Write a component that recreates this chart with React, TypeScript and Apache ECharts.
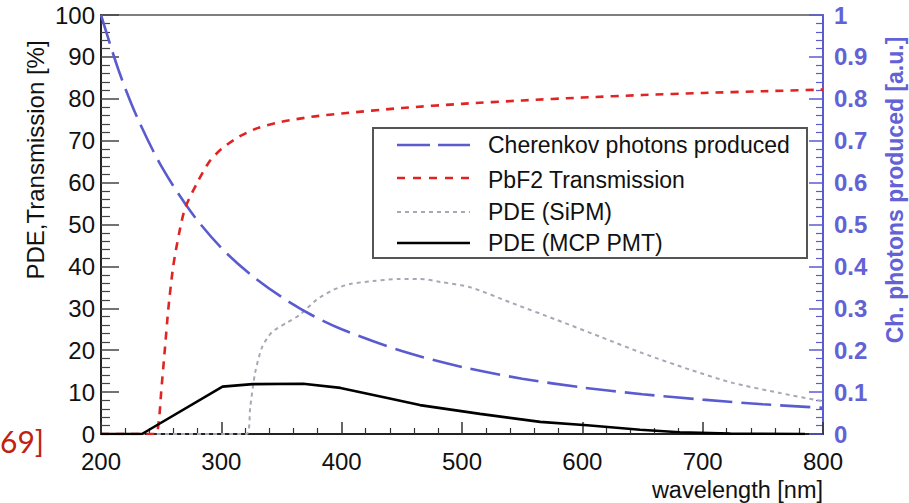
import React, { useEffect, useRef } from "react";
import * as echarts from "echarts";

// Cherenkov photons produced (right axis, a.u.)
const cherenkovNm = [200, 215, 230, 250, 275, 300, 325, 350, 375, 400, 450, 500, 550, 600, 650, 700, 750, 800];
const cherenkovVal = [1.0, 0.865, 0.756, 0.64, 0.529, 0.444, 0.379, 0.327, 0.284, 0.25, 0.198, 0.16, 0.132, 0.111, 0.095, 0.082, 0.071, 0.0625];

// PbF2 transmission (%)
const pbf2Nm = [200, 245, 248, 250, 253, 256, 260, 265, 270, 280, 290, 300, 315, 330, 350, 375, 400, 450, 500, 550, 600, 650, 700, 750, 800];
const pbf2Val = [0, 0, 3, 10, 20, 30, 40, 48, 54, 60, 65, 68, 71, 73, 74.5, 75.7, 76.5, 77.8, 78.8, 79.6, 80.3, 80.9, 81.4, 81.8, 82.2];

// PDE SiPM (%)
const sipmNm = [200, 321, 324, 328, 334, 342, 354, 365, 379, 393, 407, 426, 448, 465, 482, 507, 542, 579, 615, 650, 690, 725, 764, 800];
const sipmVal = [0, 0, 6.4, 14.5, 20.8, 24.3, 26.5, 28.4, 32, 34.4, 35.8, 36.5, 37, 37, 36.3, 35, 31.2, 27.2, 23.2, 19.3, 15.3, 12.2, 9.8, 7.8];

// PDE MCP PMT (%)
const mcpNm = [200, 234, 301, 326, 368, 399, 438, 465, 515, 565, 604, 648, 681, 723, 785];
const mcpVal = [0, 0, 11.3, 11.9, 12, 11, 8.6, 6.9, 4.8, 2.9, 2.1, 1.0, 0.4, 0.1, 0];

const seriesNames = ["Cherenkov photons produced", "PbF2 Transmission", "PDE (SiPM)", "PDE (MCP PMT)"];

const BLUE = "#5b5bd0";
const BLUE_TXT = "#6262d6";
const RED = "#e02424";
const GRAY = "#a8a8b4";
const FONT = "Liberation Sans, Arial, sans-serif";

const zip = (xs: number[], ys: number[]) => xs.map((x, i) => [x, ys[i]]);

export default function App() {
  const ref = useRef<HTMLDivElement>(null);
  useEffect(() => {
    if (!ref.current) return;
    const chart = echarts.init(ref.current, undefined, { renderer: "svg" });
    const legendX1 = 397;
    const legendX2 = 470;
    const rows = [145, 180, 212, 243];
    const option: any = {
      animation: false,
      backgroundColor: "#ffffff",
      grid: {
        left: 101,
        right: 86,
        top: 15,
        bottom: 69,
        show: true,
        borderColor: "#555555",
        borderWidth: 1.5,
        backgroundColor: "transparent",
      },
      xAxis: {
        type: "value",
        min: 200,
        max: 800,
        interval: 100,
        axisLine: { show: true, onZero: false, lineStyle: { color: "#222", width: 2 } },
        axisTick: { show: true, inside: true, length: 12, lineStyle: { color: "#333", width: 1.5 } },
        minorTick: { show: true, splitNumber: 5, length: 6, lineStyle: { color: "#333", width: 1.2 } },
        splitLine: { show: false },
        axisLabel: { color: "#111", fontSize: 24, fontFamily: FONT, margin: 15 },
      },
      yAxis: [
        {
          type: "value",
          min: 0,
          max: 100,
          interval: 10,
          position: "left",
          axisLine: { show: true, lineStyle: { color: "#222", width: 2 } },
          axisTick: { show: true, inside: true, length: 18, lineStyle: { color: "#444", width: 1.5 } },
          minorTick: { show: true, splitNumber: 5, length: 9, lineStyle: { color: "#444", width: 1.2 } },
          splitLine: { show: false },
          axisLabel: { color: "#111", fontSize: 24, fontFamily: FONT, margin: 6 },
        },
        {
          type: "value",
          min: 0,
          max: 1,
          interval: 0.1,
          position: "right",
          axisLine: { show: true, lineStyle: { color: BLUE, width: 2 } },
          axisTick: { show: true, inside: true, length: 14, lineStyle: { color: BLUE, width: 1.5 } },
          minorTick: { show: true, splitNumber: 5, length: 7, lineStyle: { color: BLUE, width: 1.2 } },
          splitLine: { show: false },
          axisLabel: {
            color: BLUE_TXT,
            fontSize: 24,
            fontWeight: "bold",
            fontFamily: FONT,
            margin: 11,
            formatter: (v: number) => String(Math.round(v * 10) / 10),
          },
        },
      ],
      series: [
        {
          name: seriesNames[0],
          type: "line",
          yAxisIndex: 1,
          data: zip(cherenkovNm, cherenkovVal),
          smooth: 0.3,
          showSymbol: false,
          lineStyle: { color: BLUE, width: 2.6, type: [30, 9] },
          z: 3,
        },
        {
          name: seriesNames[1],
          type: "line",
          yAxisIndex: 0,
          data: zip(pbf2Nm, pbf2Val),
          smooth: 0.25,
          showSymbol: false,
          lineStyle: { color: RED, width: 2.6, type: [8, 7] },
          z: 3,
        },
        {
          name: seriesNames[2],
          type: "line",
          yAxisIndex: 0,
          data: zip(sipmNm, sipmVal),
          smooth: 0.25,
          showSymbol: false,
          lineStyle: { color: GRAY, width: 2, type: [4, 4] },
          z: 2,
        },
        {
          name: seriesNames[3],
          type: "line",
          yAxisIndex: 0,
          data: zip(mcpNm, mcpVal),
          smooth: false,
          showSymbol: false,
          lineStyle: { color: "#000", width: 2.6 },
          z: 4,
        },
      ],
      graphic: [
        {
          type: "text",
          x: 35,
          y: 160,
          rotation: Math.PI / 2,
          style: {
            text: "PDE,Transmission [%]",
            fill: "#111",
            font: `24px ${FONT}`,
            textAlign: "center",
            textVerticalAlign: "middle",
          },
        },
        {
          type: "text",
          x: 895,
          y: 190,
          rotation: Math.PI / 2,
          style: {
            text: "Ch. photons produced [a.u.]",
            fill: BLUE_TXT,
            font: `bold 23px ${FONT}`,
            textAlign: "center",
            textVerticalAlign: "middle",
          },
        },
        {
          type: "text",
          x: 823,
          y: 490,
          style: {
            text: "wavelength [nm]",
            fill: "#111",
            font: `23.5px ${FONT}`,
            textAlign: "right",
            textVerticalAlign: "middle",
          },
        },
        {
          type: "text",
          x: 0,
          y: 441,
          style: {
            text: "69]",
            fill: "#c0220f",
            font: `30px Lato, sans-serif`,
            textAlign: "left",
            textVerticalAlign: "middle",
          },
        },
        {
          type: "group",
          z: 100,
          children: [
            {
              type: "rect",
              shape: { x: 373, y: 128, width: 434, height: 130 },
              style: { fill: "#ffffff", stroke: "#555", lineWidth: 2 },
            },
            {
              type: "line",
              shape: { x1: legendX1, y1: rows[0], x2: legendX2, y2: rows[0] },
              style: { stroke: BLUE, lineWidth: 2.6, lineDash: [33, 8] },
            },
            {
              type: "line",
              shape: { x1: legendX1, y1: rows[1] - 2, x2: legendX2, y2: rows[1] - 2 },
              style: { stroke: RED, lineWidth: 2.6, lineDash: [8, 8] },
            },
            {
              type: "line",
              shape: { x1: legendX1, y1: rows[2], x2: legendX2, y2: rows[2] },
              style: { stroke: GRAY, lineWidth: 2, lineDash: [4, 4] },
            },
            {
              type: "line",
              shape: { x1: legendX1, y1: rows[3], x2: legendX2, y2: rows[3] },
              style: { stroke: "#000", lineWidth: 2.6 },
            },
            ...seriesNames.map((n, i) => ({
              type: "text",
              x: 488,
              y: rows[i],
              style: {
                text: n,
                fill: "#111",
                font: `23px ${FONT}`,
                textAlign: "left",
                textVerticalAlign: "middle",
              },
            })),
          ],
        },
      ],
    };
    chart.setOption(option);
    return () => chart.dispose();
  }, []);
  return (
    <div
      ref={ref}
      style={{ position: "fixed", left: 0, top: 0, width: 909, height: 503, background: "#fff" }}
    />
  );
}
